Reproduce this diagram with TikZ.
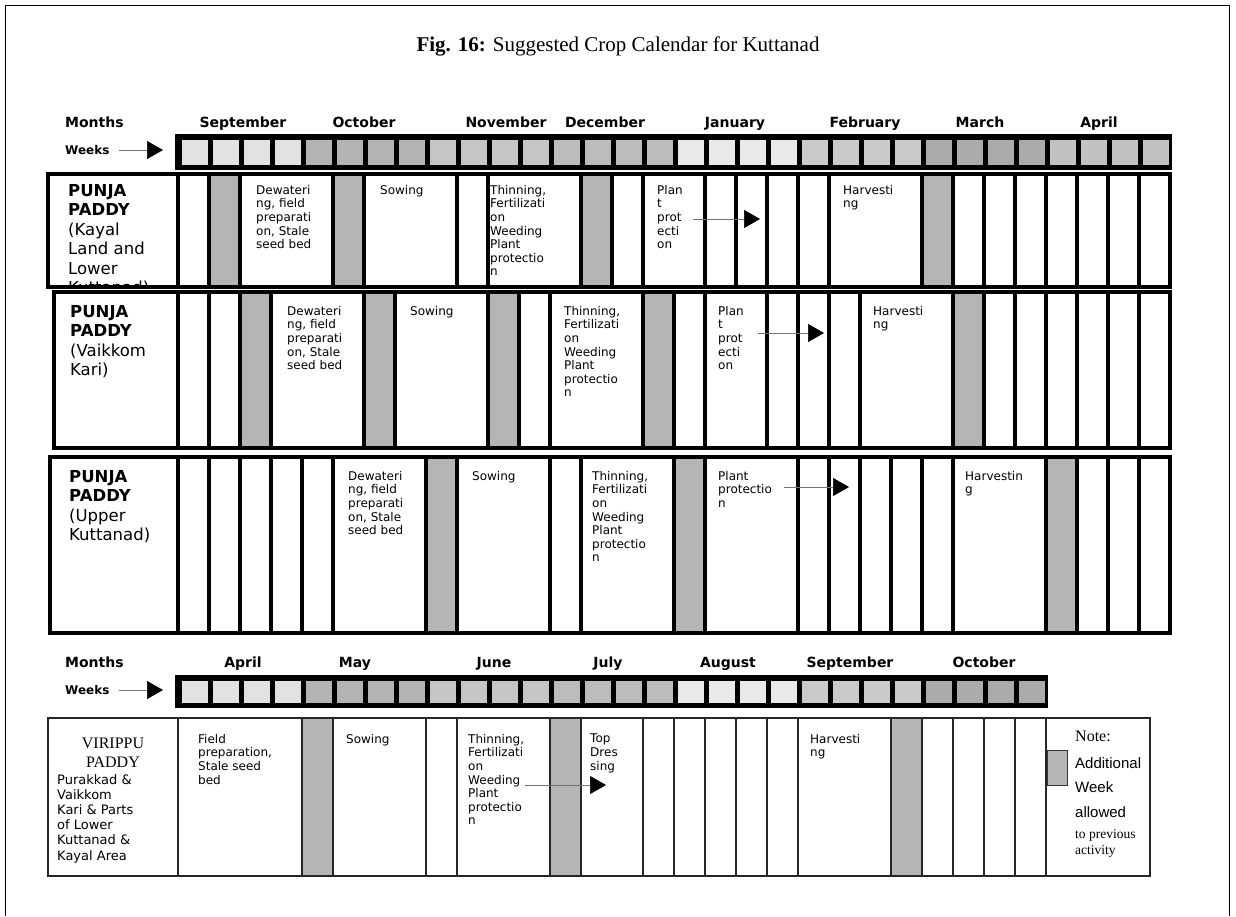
\documentclass[tikz,border=0pt]{standalone}
\usepackage{fontspec}
\setmainfont{Liberation Serif}
\setsansfont{DejaVu Sans}
\newfontfamily\arialfont{Liberation Sans}
\usepackage{tikz}
\usetikzlibrary{arrows.meta,calc}
\definecolor{wkA}{HTML}{E2E2E2}
\definecolor{wkB}{HTML}{B3B3B3}
\definecolor{wkC}{HTML}{C5C5C5}
\definecolor{wkD}{HTML}{BCBCBC}
\definecolor{wkE}{HTML}{E9E9E9}
\definecolor{wkF}{HTML}{CACACA}
\definecolor{wkG}{HTML}{ABABAB}
\definecolor{wkH}{HTML}{C2C2C2}
\definecolor{addgray}{HTML}{B5B5B5}
\tikzset{rowframe/.style={line width=4pt}, colsep/.style={line width=4pt}, thinframe/.style={line width=1.1pt,draw=black!85}, addweek/.style={fill=addgray}, monthlbl/.style={font=\sffamily\bfseries\fontsize{14}{16}\selectfont, anchor=base, inner sep=0pt}, weeklbl/.style={font=\sffamily\bfseries\fontsize{12}{14}\selectfont, anchor=west, inner sep=0pt}, act/.style={font=\sffamily\fontsize{12}{13.6}\selectfont, anchor=north west, align=left, inner sep=0pt}, croplbl/.style={font=\sffamily\fontsize{16.5}{19.5}\selectfont, anchor=north west, align=left, inner sep=0pt}, flow/.style={draw=black!55, line width=0.7pt, -{Triangle[length=16pt,width=18pt,color=black]}}}

\begin{document}
\begin{tikzpicture}[x=1pt,y=-1pt]
\useasboundingbox (0,0) rectangle (1236,916);
%\draw[help lines,step=50] (0,0) grid (1236,916);
\draw[line width=0.8pt] (5,916) -- (5,5) -- (1229,5) -- (1229,916);
\node[font=\fontsize{21}{24}\selectfont] (title) at (618,46) {\textbf{Fig. 16:} Suggested Crop Calendar for Kuttanad};

\node[monthlbl, anchor=base west] (mon1) at (65,127) {Months};
\node[weeklbl] (wk1) at (65,150) {Weeks};
\coordinate (wk1tip) at (163,150);
\draw[flow, shorten <=9pt] (wk1) -- (wk1tip);
\foreach \mx/\mn [count=\i] in {243/September,364/October,506/November,605/December,735/January,865/February,980/March,1099/April}
\node[monthlbl] (tm\i) at (\mx,127) {\mn};
\fill (175,134) rectangle (1172,170);
\foreach \wc [count=\m from 0] in {wkA,wkB,wkC,wkD,wkE,wkF,wkG,wkH}
\foreach \k in {0,...,3}
\fill[\wc] ({182+31*(4*\m+\k)},140) rectangle ({208+31*(4*\m+\k)},165);

\foreach \w in {1,5,13,24} \fill[addweek] ({178+31*\w},174) rectangle ({209+31*\w},287);
\foreach \w in {0,1,2,5,6,9,10,13,14,15,17,18,...,21,24,25,...,31} \draw[colsep] ({178+31*\w},174) -- ({178+31*\w},287);
\draw[rowframe] (48,174) rectangle (1170,287);
\begin{scope}
\clip (48,174) rectangle (178,287);
\node[croplbl] (r1lbl) at (68,184) {\textbf{PUNJA}\\\textbf{PADDY}\\(Kayal\\Land and\\Lower\\Kuttanad)};
\end{scope}
\node[act] (r1dew) at (256,185) {Dewateri\\ng, field\\preparati\\on, Stale\\seed bed};
\node[act] (r1sow) at (380,185) {Sowing};
\node[act] (r1thin) at (490,185) {Thinning,\\Fertilizati\\on\\Weeding\\Plant\\protectio\\n};
\node[act] (r1plant) at (657,185) {Plan\\t\\prot\\ecti\\on};
\node[act] (r1harv) at (843,185) {Harvesti\\ng};
\coordinate (r1tip) at (760,219);
\draw[flow, shorten <=10pt] (r1plant.east |- r1tip) -- (r1tip);

\foreach \w in {2,6,10,15,25} \fill[addweek] ({178+31*\w},292) rectangle ({209+31*\w},448);
\foreach \w in {0,1,2,3,6,7,10,11,12,15,16,17,19,20,21,22,25,26,...,31} \draw[colsep] ({178+31*\w},292) -- ({178+31*\w},448);
\draw[rowframe] (54,292) rectangle (1170,448);
\node[croplbl] (r2lbl) at (70,305) {\textbf{PUNJA}\\\textbf{PADDY}\\(Vaikkom\\Kari)};
\node[act] (r2dew) at (287,306) {Dewateri\\ng, field\\preparati\\on, Stale\\seed bed};
\node[act] (r2sow) at (410,306) {Sowing};
\node[act] (r2thin) at (564,306) {Thinning,\\Fertilizati\\on\\Weeding\\Plant\\protectio\\n};
\node[act] (r2plant) at (718,306) {Plan\\t\\prot\\ecti\\on};
\node[act] (r2harv) at (873,306) {Harvesti\\ng};
\coordinate (r2tip) at (824,333);
\draw[flow, shorten <=14pt] (r2plant.east |- r2tip) -- (r2tip);

\foreach \w in {8,16,28} \fill[addweek] ({178+31*\w},457) rectangle ({209+31*\w},633);
\foreach \w in {0,1,...,5,8,9,12,13,16,17,20,21,...,25,28,29,30,31} \draw[colsep] ({178+31*\w},457) -- ({178+31*\w},633);
\draw[rowframe] (50,457) rectangle (1170,633);
\node[croplbl] (r3lbl) at (69,470) {\textbf{PUNJA}\\\textbf{PADDY}\\(Upper\\Kuttanad)};
\node[act] (r3dew) at (348,471) {Dewateri\\ng, field\\preparati\\on, Stale\\seed bed};
\node[act] (r3sow) at (472,471) {Sowing};
\node[act] (r3thin) at (592,471) {Thinning,\\Fertilizati\\on\\Weeding\\Plant\\protectio\\n};
\node[act] (r3plant) at (718,471) {Plant\\protectio\\n};
\node[act] (r3harv) at (965,471) {Harvestin\\g};
\coordinate (r3tip) at (849,487);
\draw[flow, shorten <=12pt] (r3plant.east |- r3tip) -- (r3tip);

\node[monthlbl, anchor=base west] (mon2) at (65,667) {Months};
\node[weeklbl] (wk2) at (65,690) {Weeks};
\coordinate (wk2tip) at (163,690);
\draw[flow, shorten <=9pt] (wk2) -- (wk2tip);
\foreach \mx/\mn [count=\i] in {243/April,355/May,494/June,608/July,728/August,850/September,984/October}
\node[monthlbl] (bm\i) at (\mx,667) {\mn};
\fill (175,675) rectangle (1048,708);
\foreach \wc [count=\m from 0] in {wkA,wkB,wkC,wkD,wkE,wkF,wkG}
\foreach \k in {0,...,3}
\fill[\wc] ({182+31*(4*\m+\k)},681) rectangle ({208+31*(4*\m+\k)},703);

\foreach \w in {4,12,23} \fill[addweek] ({178+31*\w},718) rectangle ({209+31*\w},876);
\foreach \w in {0,4,5,8,9,12,13,15,16,...,20,23,24,...,28} \draw[thinframe] ({178+31*\w},718) -- ({178+31*\w},876);
\draw[thinframe] (48,718) rectangle (1150,876);
\node[font=\fontsize{16}{19}\selectfont, align=center] (b1vir) at (113,753) {VIRIPPU\\PADDY};
\node[font=\sffamily\fontsize{13}{15.2}\selectfont, anchor=north west, align=left, inner sep=0pt] (b1area) at (57,774) {Purakkad \&\\Vaikkom\\Kari \& Parts\\of Lower\\Kuttanad \&\\Kayal Area};
\node[act] (b1field) at (198,734) {Field\\preparation,\\Stale seed\\bed};
\node[act] (b1sow) at (346,734) {Sowing};
\node[act] (b1thin) at (468,734) {Thinning,\\Fertilizati\\on\\Weeding\\Plant\\protectio\\n};
\node[act] (b1top) at (590,734) {Top\\Dres\\sing};
\node[act] (b1harv) at (810,734) {Harvesti\\ng};
\coordinate (b1tip) at (606,785);
\draw[flow, shorten <=1pt] (b1thin.east |- b1tip) -- (b1tip);

\node[font=\fontsize{16}{18}\selectfont, anchor=north west, inner sep=0pt] (note) at (1075,731) {Note:};
\node[draw=black!80, line width=0.8pt, fill=addgray, minimum width=20pt, minimum height=35pt, inner sep=0pt] (legbox) at (1057,768) {};
\node[font=\arialfont\fontsize{15}{24.5}\selectfont, anchor=north west, align=left, inner sep=0pt] (legtxt) at (1075,757) {Additional\\Week\\allowed};
\node[font=\fontsize{13.5}{16}\selectfont, anchor=north west, align=left, inner sep=0pt] (legsub) at (1075,829) {to previous\\activity};
\end{tikzpicture}
\end{document}
